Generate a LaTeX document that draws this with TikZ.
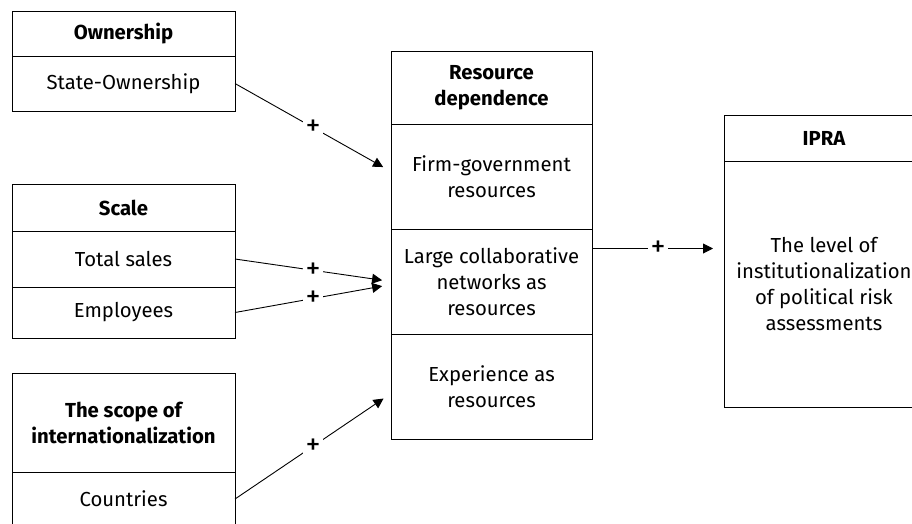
\documentclass[tikz,border=0pt]{standalone}
\usepackage{fontspec}
\setmainfont{Fira Sans}
\usetikzlibrary{arrows.meta, positioning}
\tikzstyle{cell} = [draw, line width=1pt, rectangle, align=center, inner sep=0pt, outer sep=0pt, font=\fontsize{20.3}{26}\selectfont]
\tikzstyle{head} = [cell, font=\fontsize{20.3}{26}\selectfont\bfseries]
\tikzstyle{link} = [line width=0.9pt, -{Triangle[length=10pt,width=10pt]}, shorten >=9pt]
\tikzstyle{sign} = [fill=white, inner sep=3pt, font=\fontsize{30}{30}\selectfont]

\begin{document}
\begin{tikzpicture}[x=1pt, y=-1pt]
	\useasboundingbox (0,0) rectangle (912,523);
	% left column
	\node[head, minimum width=223pt, minimum height=45pt, anchor=north west] (own) at (12,11) {Ownership};
	\node[cell, minimum width=223pt, minimum height=55pt, below=0pt of own] (state) {State-Ownership};
	\node[head, minimum width=223pt, minimum height=47pt, anchor=north west] (scale) at (12,184) {Scale};
	\node[cell, minimum width=223pt, minimum height=56pt, below=0pt of scale] (sales) {Total sales};
	\node[cell, minimum width=223pt, minimum height=51pt, below=0pt of sales] (staff) {Employees};
	\node[head, minimum width=223pt, minimum height=99pt, anchor=north west] (scope) at (12,373) {The scope of\\internationalization};
	\node[cell, minimum width=223pt, minimum height=54pt, below=0pt of scope] (nations) {Countries};
	% middle column
	\node[head, minimum width=201pt, minimum height=73pt, anchor=north west] (dep) at (391,51) {Resource\\dependence};
	\node[cell, minimum width=201pt, minimum height=105pt, below=0pt of dep] (firm) {Firm-government\\resources};
	\node[cell, minimum width=201pt, minimum height=105pt, below=0pt of firm] (large) {Large collaborative\\networks as\\resources};
	\node[cell, minimum width=201pt, minimum height=105pt, below=0pt of large] (exp) {Experience as\\resources};
	% right column
	\node[head, minimum width=200pt, minimum height=46pt, anchor=north west] (ipra) at (724,115) {IPRA};
	\node[cell, minimum width=200pt, minimum height=246pt, below=0pt of ipra] (level) {The level of\\institutionalization\\of political risk\\assessments};
	% arrows
	\draw[link] (state.east) -- node[sign]{+} ([yshift=5pt]firm.west);
	\draw[link] (sales.east) -- node[sign]{+} (large.west);
	\draw[link] (staff.east) -- node[sign]{+} ([yshift=-3pt]large.west);
	\draw[link] (nations.east) -- node[sign]{+} ([yshift=-7pt]exp.west);
	\coordinate (out) at ([yshift=33pt]large.east);
	\draw[link, shorten >=11pt] (out) -- node[sign]{+} (out -| level.west);
\end{tikzpicture}
\end{document}
